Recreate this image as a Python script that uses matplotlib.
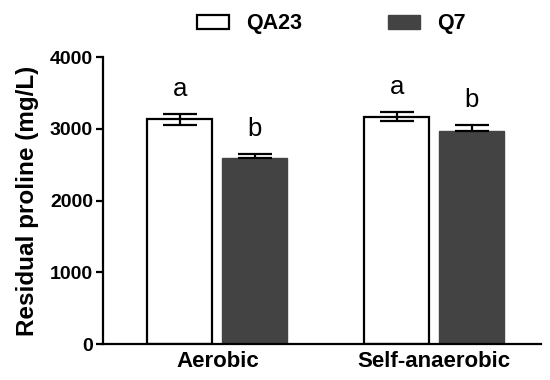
import numpy as np
import matplotlib.pyplot as plt

plt.rcParams['font.family'] = ['Liberation Sans', 'DejaVu Sans']

conditions = ['Aerobic', 'Self-anaerobic']
strains = ['QA23', 'Q7']
qa23_mean = [3130, 3170]
qa23_err = [77, 63]
q7_mean = [2600, 2965]
q7_err = [56, 85]
letters_qa23 = ['a', 'a']
letters_q7 = ['b', 'b']

x = np.arange(len(conditions))
w = 0.30
off = 0.173

fig = plt.figure(figsize=(5.5, 3.8), dpi=100)
ax = fig.add_axes([0.187, 0.094, 0.797, 0.756])

ekw = dict(elinewidth=1.6, capthick=1.6, ecolor='black')
b1 = ax.bar(x - off, qa23_mean, w, color='white', edgecolor='black', linewidth=1.6,
            yerr=qa23_err, capsize=12.5, error_kw=ekw, label=strains[0])
b2 = ax.bar(x + off, q7_mean, w, color='#434343', edgecolor='#434343', linewidth=1.0,
            yerr=[np.zeros(2), q7_err], capsize=12.5, error_kw=ekw, label=strains[1])

for i in range(len(conditions)):
    ax.text(x[i] - off, qa23_mean[i] + qa23_err[i] + 180, letters_qa23[i],
            ha='center', va='bottom', fontsize=18.5)
    ax.text(x[i] + off, q7_mean[i] + q7_err[i] + 180, letters_q7[i],
            ha='center', va='bottom', fontsize=18.5)

ax.set_xlim(-0.529, 1.494)
ax.set_ylim(0, 4000)
ax.set_yticks([0, 1000, 2000, 3000, 4000])
ax.set_xticks(x)
ax.set_xticklabels(conditions, fontsize=16, fontweight='bold')
for t in ax.get_yticklabels():
    t.set_fontsize(14)
    t.set_fontweight('bold')
ax.tick_params(axis='x', length=0, pad=5)
ax.tick_params(axis='y', width=1.6, length=5, pad=2)
ax.set_ylabel('Residual proline (mg/L)', fontsize=17.5, fontweight='bold', labelpad=8)

ax.spines['top'].set_visible(False)
ax.spines['right'].set_visible(False)
ax.spines['left'].set_linewidth(1.6)
ax.spines['bottom'].set_linewidth(1.6)

fig.legend([b1, b2], strains, loc='center left', bbox_to_anchor=(186 / 550, 1 - 24 / 380),
           ncol=2, frameon=False, prop=dict(size=15.5, weight='bold'), borderpad=0,
           handlelength=1.49, handleheight=0.65, columnspacing=4.0, handletextpad=0.79)

fig.savefig('out.png', dpi=100)
